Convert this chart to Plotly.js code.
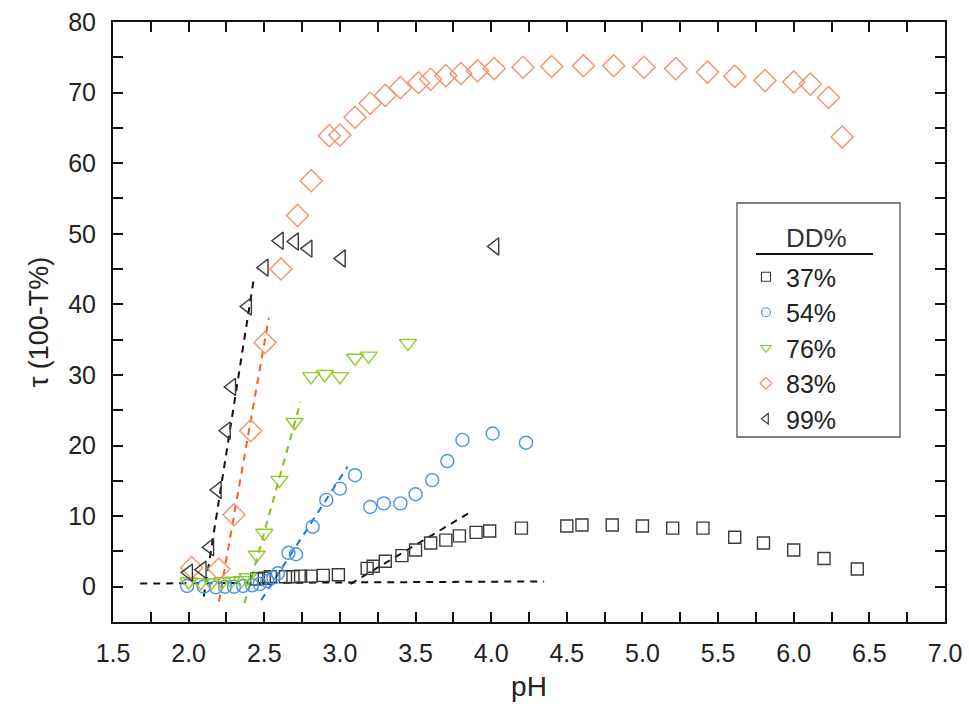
<!DOCTYPE html>
<html>
<head>
<meta charset="utf-8">
<script src="https://cdn.plot.ly/plotly-3.0.1.min.js"></script>
<style>html,body{margin:0;padding:0;background:#fff;}#chart{width:969px;height:712px;}</style>
</head>
<body>
<div id="chart"></div>
<script>
// ---- data ----
const seriesNames = ['37%', '54%', '76%', '83%', '99%'];
const legendTitle = 'DD%';

const ph37 = [2.45, 2.50, 2.54, 2.64, 2.69, 2.74, 2.81, 2.89, 2.99, 3.18, 3.22, 3.30, 3.41, 3.50, 3.60, 3.70, 3.79, 3.90, 3.99, 4.20, 4.50, 4.60, 4.80, 5.00, 5.20, 5.40, 5.61, 5.80, 6.00, 6.20, 6.42];
const tau37 = [1.1, 1.2, 1.4, 1.4, 1.4, 1.5, 1.5, 1.6, 1.7, 2.6, 2.9, 3.6, 4.4, 5.2, 6.2, 6.6, 7.2, 7.7, 7.9, 8.3, 8.6, 8.75, 8.75, 8.6, 8.3, 8.3, 7.0, 6.2, 5.2, 4.0, 2.5];

const ph54 = [1.99, 2.10, 2.18, 2.24, 2.30, 2.36, 2.42, 2.47, 2.52, 2.56, 2.59, 2.66, 2.71, 2.82, 2.91, 3.00, 3.10, 3.20, 3.29, 3.40, 3.50, 3.61, 3.71, 3.81, 4.01, 4.23];
const tau54 = [0.1, 0.0, -0.1, 0.0, 0.0, 0.1, 0.2, 0.4, 0.8, 1.3, 1.9, 4.8, 4.6, 8.5, 12.3, 13.9, 15.8, 11.3, 11.8, 11.8, 13.1, 15.1, 17.8, 20.8, 21.7, 20.4];

const ph76 = [2.00, 2.08, 2.15, 2.22, 2.28, 2.35, 2.39, 2.45, 2.50, 2.60, 2.70, 2.81, 2.90, 3.00, 3.10, 3.19, 3.45];
const tau76 = [0.7, 0.6, 0.6, 0.7, 0.8, 0.9, 1.3, 4.5, 7.6, 15.1, 23.3, 29.8, 30.1, 29.8, 32.4, 32.7, 34.5];

const ph83 = [2.02, 2.20, 2.30, 2.41, 2.505, 2.61, 2.72, 2.81, 2.93, 3.00, 3.10, 3.20, 3.30, 3.40, 3.52, 3.60, 3.70, 3.80, 3.91, 4.02, 4.21, 4.40, 4.61, 4.81, 5.01, 5.22, 5.43, 5.61, 5.81, 6.00, 6.11, 6.23, 6.32];
const tau83 = [2.7, 2.5, 10.2, 22.1, 34.6, 45.0, 52.6, 57.5, 63.9, 64.0, 66.5, 68.5, 69.6, 70.7, 71.4, 71.9, 72.4, 72.7, 73.1, 73.4, 73.6, 73.7, 73.8, 73.8, 73.6, 73.4, 72.9, 72.3, 71.7, 71.5, 71.2, 69.3, 63.7];

const ph99 = [2.00, 2.09, 2.14, 2.19, 2.25, 2.285, 2.39, 2.50, 2.60, 2.70, 2.79, 3.01, 4.025];
const tau99 = [2.0, 2.4, 5.6, 13.7, 22.1, 28.3, 39.7, 45.2, 49.0, 48.9, 47.9, 46.5, 48.2];

// dashed guide lines (end points)
const fitBaseX = [1.68, 4.35], fitBaseY = [0.45, 0.75];
const fit37X = [3.07, 3.85], fit37Y = [0.4, 10.4];
const fit54X = [2.48, 3.05], fit54Y = [-1.9, 17.0];
const fit76X = [2.37, 2.74], fit76Y = [-2.3, 26.2];
const fit83X = [2.20, 2.53], fit83Y = [-2.1, 38.1];
const fit99X = [2.10, 2.43], fit99Y = [-1.4, 43.5];

// tick positions (labelled + unlabelled minor ones)
const xTickVals = [1.5, 1.75, 2.0, 2.25, 2.5, 2.75, 3.0, 3.25, 3.5, 3.75, 4.0, 4.25, 4.5, 4.75, 5.0, 5.25, 5.5, 5.75, 6.0, 6.25, 6.5, 6.75, 7.0];
const xTickText = ['1.5', '', '2.0', '', '2.5', '', '3.0', '', '3.5', '', '4.0', '', '4.5', '', '5.0', '', '5.5', '', '6.0', '', '6.5', '', '7.0'];
const yTickVals = [-5, 0, 5, 10, 15, 20, 25, 30, 35, 40, 45, 50, 55, 60, 65, 70, 75, 80];
const yTickText = ['', '0', '', '10', '', '20', '', '30', '', '40', '', '50', '', '60', '', '70', '', '80'];

// ---- styles ----
const FONT = '"Liberation Sans", Arial, sans-serif';
const cBlack = '#3a3a3a', cBlue = '#4a94e2', cGreen = '#8fcc2c', cOrange = '#ef936c';

function pts(x, y, sym, size, col) {
  return {x: x, y: y, type: 'scatter', mode: 'markers', showlegend: false, hoverinfo: 'skip',
    marker: {symbol: sym, size: size, color: col, line: {width: 1.4}}};
}
function dash(x, y, col) {
  return {x: x, y: y, type: 'scatter', mode: 'lines', showlegend: false, hoverinfo: 'skip',
    line: {color: col, width: 2, dash: '7px,6px'}};
}
function leg(name, sym, col, grp) {
  return {x: [null], y: [null], type: 'scatter', mode: 'markers', name: name, legendgroup: grp,
    marker: {symbol: sym, size: 9, color: col, line: {width: 1.2}}};
}

const traces = [
  dash(fitBaseX, fitBaseY, '#111'),
  dash(fit37X, fit37Y, '#111'),
  dash(fit54X, fit54Y, '#1d74dd'),
  dash(fit76X, fit76Y, '#7cc21c'),
  dash(fit83X, fit83Y, '#ff5a1a'),
  dash(fit99X, fit99Y, '#111'),
  pts(ph37, tau37, 'square-open', 12, cBlack),
  pts(ph54, tau54, 'circle-open', 13, cBlue),
  pts(ph76, tau76, 'triangle-down-open', 15, cGreen),
  pts(ph83, tau83, 'diamond-open', 17, cOrange),
  pts(ph99, tau99, 'triangle-left-open', 15, cBlack),
  leg(seriesNames[0], 'square-open', cBlack, 'a'),
  leg(seriesNames[1], 'circle-open', cBlue, 'b'),
  leg(seriesNames[2], 'triangle-down-open', cGreen, 'c'),
  leg(seriesNames[3], 'diamond-open', cOrange, 'd'),
  leg(seriesNames[4], 'triangle-left-open', cBlack, 'e')
];

const axisCommon = {
  showgrid: false, zeroline: false, showline: true, linecolor: '#111', linewidth: 2,
  mirror: 'allticks', ticks: 'inside', ticklen: 10, tickwidth: 2, tickcolor: '#111',
  tickfont: {family: FONT, size: 25, color: '#222'}, tickmode: 'array'
};

const px = v => (v - 113) / 832;   // pixel -> paper x
const py = v => (622 - v) / 600;   // pixel -> paper y

const layout = {
  width: 969, height: 712,
  margin: {l: 113, r: 24, t: 22, b: 90},
  paper_bgcolor: '#fff', plot_bgcolor: '#fff',
  font: {family: FONT, color: '#222'},
  xaxis: Object.assign({}, axisCommon, {
    range: [1.5, 7.0], tickvals: xTickVals, ticktext: xTickText,
    ticklabelstandoff: 8,
    title: {text: 'pH', font: {family: FONT, size: 28, color: '#222'}, standoff: 10}
  }),
  yaxis: Object.assign({}, axisCommon, {
    range: [-5, 80], tickvals: yTickVals, ticktext: yTickText,
    ticklabelstandoff: 10,
    title: {text: 'τ (100-T%)', font: {family: FONT, size: 27, color: '#222'}, standoff: 12}
  }),
  legend: {
    x: px(746), y: py(254), xanchor: 'left', yanchor: 'top',
    borderwidth: 0, bgcolor: 'rgba(0,0,0,0)',
    font: {family: FONT, size: 25, color: '#222'},
    traceorder: 'grouped', tracegroupgap: 0, itemsizing: 'trace'
  },
  annotations: [
    {xref: 'paper', yref: 'paper', x: px(816), y: py(238), text: legendTitle, showarrow: false,
      xanchor: 'center', yanchor: 'middle', font: {family: FONT, size: 26, color: '#333'}}
  ],
  shapes: [
    {type: 'rect', xref: 'paper', yref: 'paper', x0: px(737), x1: px(900), y0: py(203), y1: py(437),
      line: {color: '#555', width: 1.3}, fillcolor: 'rgba(0,0,0,0)'},
    {type: 'line', xref: 'paper', yref: 'paper', x0: px(756), x1: px(873),
      y0: py(254), y1: py(254), line: {color: '#111', width: 2}}
  ]
};

Plotly.newPlot('chart', traces, layout, {staticPlot: true, displayModeBar: false});
</script>
</body>
</html>
